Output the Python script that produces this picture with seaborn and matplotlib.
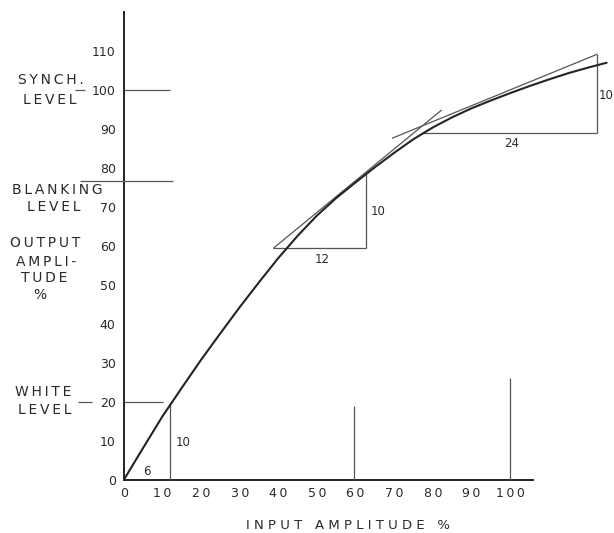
import matplotlib
matplotlib.use("Agg")
import matplotlib.pyplot as plt
import seaborn as sns
import pandas as pd

# ---- data ----
input_amp = [0, 5, 10, 15, 20, 25, 30, 35, 40, 45, 50, 55, 60, 65, 70, 75,
             80, 85, 90, 95, 100, 105, 110, 115, 120, 125]
output_amp = [0, 8.2, 16.3, 23.6, 30.8, 37.6, 44.3, 50.7, 56.9, 62.6, 67.8,
              72.3, 76.3, 80.2, 83.9, 87.4, 90.4, 93.0, 95.3, 97.3, 99.2,
              101.0, 102.7, 104.3, 105.7, 107.0]

x_ticks = [0, 10, 20, 30, 40, 50, 60, 70, 80, 90, 100]
y_ticks = [0, 10, 20, 30, 40, 50, 60, 70, 80, 90, 100, 110]

synch_level = 100
blanking_level = 76.6
white_level = 20

# construction lines: (x0, y0, x1, y1)
construction = [
    (12, 0, 12, 19.3),            # first slope triangle, vertical leg
    (38.7, 59.4, 82.3, 94.9),     # second tangent
    (38.7, 59.4, 62.7, 59.4),     # second triangle base
    (62.7, 59.4, 62.7, 78.5),     # second triangle vertical
    (69.4, 87.6, 122.6, 109.2),   # third tangent
    (77.0, 89.0, 122.6, 89.0),    # third triangle base
    (122.6, 89.0, 122.6, 109.2),  # third triangle vertical
    (59.5, 0, 59.5, 19),          # marker at 60
    (100, 0, 100, 26),            # marker at 100
    (0, synch_level, 12, synch_level),
    (-11.4, blanking_level, 12.7, blanking_level),
    (0, white_level, 10.1, white_level),
    (-12.7, synch_level, -10.1, synch_level),
    (-11.9, white_level, -8.3, white_level),
]

# triangle ratio labels: (x, y, text, ha)
ratio_labels = [
    (6.0, 2.0, "6", "center"),
    (13.4, 9.4, "10", "left"),
    (51.3, 56.6, "12", "center"),
    (64.0, 68.7, "10", "left"),
    (100.3, 86.2, "24", "center"),
    (122.9, 98.7, "10", "left"),
]

# left-side annotations: (x, y, text)
side_labels = [
    (-18.8, 102.6, "SYNCH."),
    (-19.2, 97.4, "LEVEL"),
    (-17.2, 74.3, "BLANKING"),
    (-18.3, 70.0, "LEVEL"),
    (-20.5, 60.7, "OUTPUT"),
    (-20.1, 55.8, "AMPLI-"),
    (-20.7, 51.7, "TUDE"),
    (-21.8, 47.4, "%"),
    (-21.0, 22.5, "WHITE"),
    (-20.5, 17.8, "LEVEL"),
]

x_label = "INPUT AMPLITUDE %"

# ---- drawing ----
sns.set_style("white")
plt.rcParams["font.family"] = ["DejaVu Sans"]

ink = "#242424"
thin = "#555555"
txt = "#2a2a2a"


def spaced(s):
    return "\u2009".join(s)


fig = plt.figure(figsize=(6.14, 5.33), dpi=100)
ax = fig.add_axes([0, 0, 1, 1])
ax.set_xlim(-32.1, 126.9)
ax.set_ylim(-13.7, 123.1)

df = pd.DataFrame({"input": input_amp, "output": output_amp})
sns.lineplot(data=df, x="input", y="output", ax=ax, color=ink, lw=1.5,
             sort=False, zorder=4)

for x0, y0, x1, y1 in construction:
    ax.plot([x0, x1], [y0, y1], color=thin, lw=0.9, zorder=3,
            solid_capstyle="butt")

for x, y, t, ha in ratio_labels:
    ax.text(x, y, t, ha=ha, va="center", fontsize=8.5, color=txt)

for x, y, t in side_labels:
    ax.text(x, y, spaced(t), ha="center", va="center", fontsize=10,
            color=txt)

xl = "   ".join(" ".join(w) for w in x_label.split(" "))
ax.text(58.0, -11.7, xl, ha="center", va="center", fontsize=9.5, color=txt)

for side in ["top", "right"]:
    ax.spines[side].set_visible(False)
ax.spines["left"].set_position(("data", 0))
ax.spines["bottom"].set_position(("data", 0))
ax.spines["left"].set_bounds(0, 120)
ax.spines["bottom"].set_bounds(0, 106)
for side in ["left", "bottom"]:
    ax.spines[side].set_color(ink)
    ax.spines[side].set_linewidth(1.4)

ax.set_xticks(x_ticks)
ax.set_yticks(y_ticks)
ax.set_xticklabels([spaced(str(v)) for v in x_ticks])
ax.set_yticklabels([str(v) for v in y_ticks])
ax.tick_params(axis="both", length=0, labelsize=9, labelcolor=txt)
ax.tick_params(axis="y", pad=6)
ax.tick_params(axis="x", pad=5)
ax.set_xlabel("")
ax.set_ylabel("")

fig.savefig("out.png", dpi=100)
